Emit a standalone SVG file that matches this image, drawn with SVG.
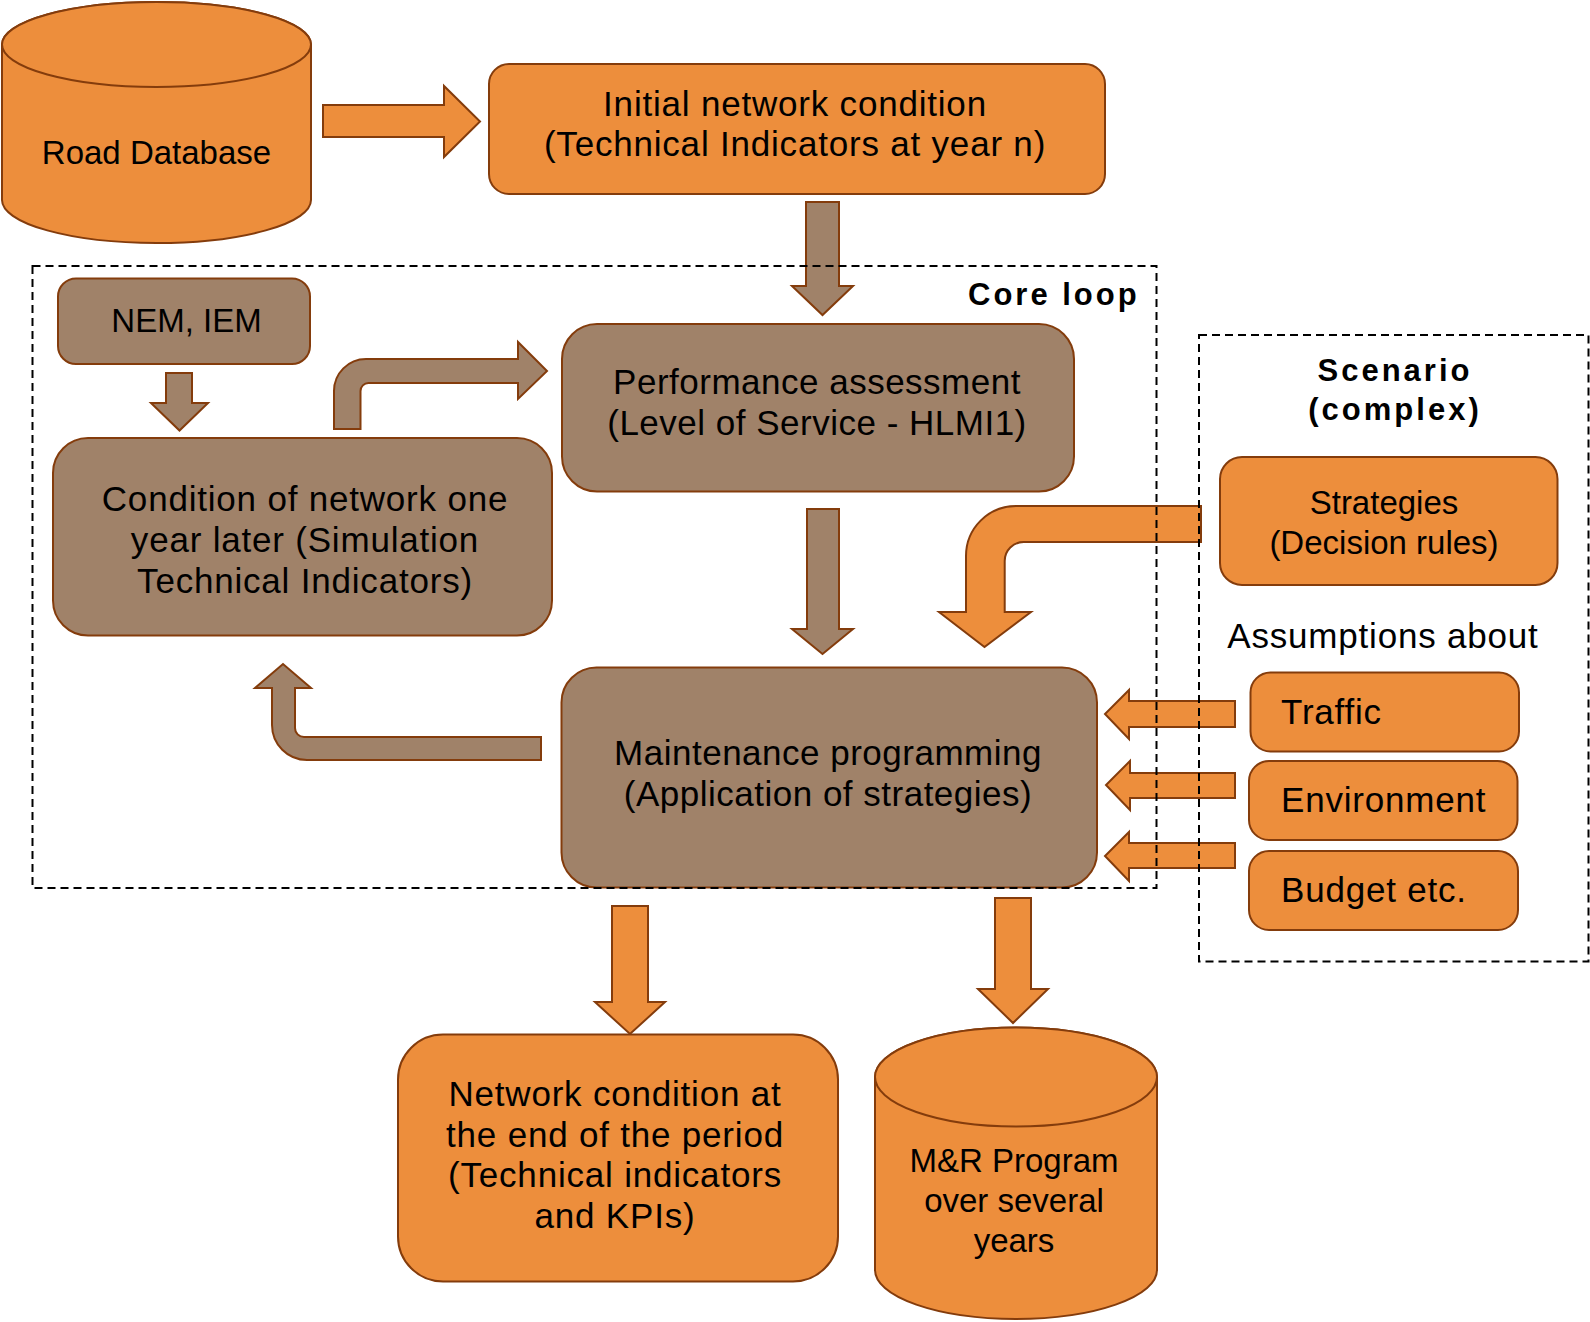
<svg xmlns="http://www.w3.org/2000/svg" width="1590" height="1322" viewBox="0 0 1590 1322">
  <style>
    .or { fill: #ED8E3C; stroke: #843C0C; stroke-width: 2; }
    .br { fill: #A08269; stroke: #843C0C; stroke-width: 2; }
    .frame { fill: none; stroke: #000; stroke-width: 2; stroke-dasharray: 8 5; }
    text { font-family: "Liberation Sans", Arial, sans-serif; fill: #000; }
    .s { font-size: 33px; text-anchor: middle; }
    .l { font-size: 35px; letter-spacing: 0.8px; text-anchor: middle; }
    .m { font-size: 35px; letter-spacing: 0.5px; text-anchor: middle; }
    .ls { font-size: 35px; letter-spacing: 0.8px; }
    .b { font-size: 31px; font-weight: bold; letter-spacing: 3px; }
  </style>
  <rect width="1590" height="1322" fill="#fff"/>

  <g id="connectors">
    <polygon class="or" points="323,105 444,105 444,86 480,121.5 444,157 444,137 323,137"/>
    <polygon class="br" points="806,202 839,202 839,286 853,286 822.5,315 792,286 806,286"/>
    <polygon class="br" points="166,373 192,373 192,403 208,403 179.5,430.5 151,403 166,403"/>
    <path class="br" d="M334,429 L334,391 A32,32 0 0 1 366,359 L518,359 L518,342 L547,371 L518,399 L518,383 L368.5,383 A8,8 0 0 0 360.5,391 L360.5,429 Z"/>
    <polygon class="br" points="807,509 839,509 839,629 853,629 822.5,654 792,629 807,629"/>
    <path class="or" d="M1201,506 L1016,506 A50,50 0 0 0 966,556 L966,612 L939,612 L984.5,647 L1031,612 L1004.7,612 L1004.7,561 A19,19 0 0 1 1023.7,542 L1201,542 Z"/>
    <path class="br" d="M541,737 L304,737 A9,9 0 0 1 295,728 L295,688 L311,688 L283,664 L255,688 L272,688 L272,725 A35,35 0 0 0 307,760 L541,760 Z"/>
    <polygon class="or" points="1235,701 1129,701 1129,690 1105,714 1129,739 1129,727 1235,727"/>
    <polygon class="or" points="1235,773 1130,773 1130,761 1106,785 1130,810 1130,798 1235,798"/>
    <polygon class="or" points="1235,843 1129,843 1129,832 1105,856 1129,881 1129,868 1235,868"/>
    <polygon class="or" points="612,906 648,906 648,1002 665,1002 630,1034 595,1002 612,1002"/>
    <polygon class="or" points="995,898 1031,898 1031,989 1048,989 1013,1023 978,989 995,989"/>
  </g>

  <g id="road-database">
    <path class="or" d="M2,44.5 L2,200 A154.5,43 0 0 0 311,200 L311,44.5 A154.5,42.5 0 0 0 2,44.5 Z"/>
    <ellipse class="or" cx="156.5" cy="44.5" rx="154.5" ry="42.5"/>
    <text class="s" x="156.5" y="163.5">Road Database</text>
  </g>

  <g id="initial-condition">
    <rect class="or" x="489" y="64" width="616" height="130" rx="20"/>
    <text class="l" x="795" y="116">Initial network condition</text>
    <text class="l" x="795" y="155.5">(Technical Indicators at year n)</text>
  </g>

  <g id="nem-iem">
    <rect class="br" x="58" y="278.5" width="252" height="85.5" rx="18"/>
    <text class="s" x="186.5" y="332">NEM, IEM</text>
  </g>

  <g id="condition-one-year">
    <rect class="br" x="53" y="438" width="499" height="197.5" rx="35"/>
    <text class="l" x="305" y="511">Condition of network one</text>
    <text class="l" x="305" y="552">year later (Simulation</text>
    <text class="l" x="305" y="593">Technical Indicators)</text>
  </g>

  <g id="performance-assessment">
    <rect class="br" x="562" y="324" width="512" height="167.5" rx="35"/>
    <text class="m" x="817" y="394">Performance assessment</text>
    <text class="m" x="817" y="435">(Level of Service - HLMI1)</text>
  </g>

  <g id="maintenance-programming">
    <rect class="br" x="561.5" y="667.5" width="535.5" height="220" rx="35"/>
    <text class="m" x="828" y="765">Maintenance programming</text>
    <text class="m" x="828" y="805.5">(Application of strategies)</text>
  </g>

  <g id="strategies">
    <rect class="or" x="1220" y="457" width="337.5" height="128" rx="22"/>
    <text class="s" x="1384" y="514">Strategies</text>
    <text class="s" x="1384" y="554">(Decision rules)</text>
  </g>

  <g id="assumptions-label">
    <text class="l" x="1383" y="648">Assumptions about</text>
  </g>

  <g id="traffic">
    <rect class="or" x="1250.5" y="672.5" width="268.5" height="79" rx="20"/>
    <text class="ls" x="1281" y="724">Traffic</text>
  </g>

  <g id="environment">
    <rect class="or" x="1249" y="761" width="268.5" height="79" rx="20"/>
    <text class="ls" x="1281" y="812">Environment</text>
  </g>

  <g id="budget">
    <rect class="or" x="1249" y="851" width="269" height="79" rx="20"/>
    <text class="ls" x="1281" y="902">Budget etc.</text>
  </g>

  <g id="network-condition-end">
    <rect class="or" x="398" y="1034.5" width="440" height="247" rx="45"/>
    <text class="l" x="615" y="1106">Network condition at</text>
    <text class="l" x="615" y="1147">the end of the period</text>
    <text class="l" x="615" y="1187">(Technical indicators</text>
    <text class="l" x="615" y="1227.5">and KPIs)</text>
  </g>

  <g id="mr-program">
    <path class="or" d="M875,1077 L875,1270 A141,49 0 0 0 1157,1270 L1157,1077 A141,49.5 0 0 0 875,1077 Z"/>
    <ellipse class="or" cx="1016" cy="1077" rx="141" ry="49.5"/>
    <text class="s" x="1014" y="1172">M&amp;R Program</text>
    <text class="s" x="1014" y="1212">over several</text>
    <text class="s" x="1014" y="1252">years</text>
  </g>

  <g id="core-loop-frame">
    <rect class="frame" x="32.5" y="266" width="1124" height="622"/>
    <text class="b" x="968" y="305">Core loop</text>
  </g>

  <g id="scenario-frame">
    <rect class="frame" x="1199" y="335" width="389.5" height="626.5"/>
    <text class="b" x="1395" y="381" text-anchor="middle">Scenario</text>
    <text class="b" x="1395" y="420" text-anchor="middle">(complex)</text>
  </g>
</svg>
